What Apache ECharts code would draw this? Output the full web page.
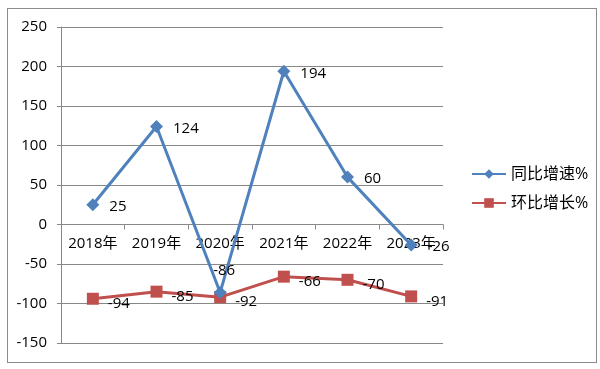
<!DOCTYPE html>
<html><head><meta charset="utf-8">
<script src="https://cdn.jsdelivr.net/npm/echarts@6/dist/echarts.min.js"></script>
<style>
html,body{margin:0;padding:0;background:#fff;}
#frame{position:absolute;left:7px;top:8px;width:588px;height:353px;border:1px solid #8c8c8c;}
#c{position:absolute;left:0;top:0;width:600px;height:369px;}
</style></head>
<body>
<div id="frame"></div>
<div id="c"></div>
<script>
var categories = ['2018年','2019年','2020年','2021年','2022年','2023年'];
var yoy = [25, 124, -86, 194, 60, -26];
var mom = [-94, -85, -92, -66, -70, -91];
var seriesNames = ['同比增速%','环比增长%'];

var font = '"Open Sans","Noto Sans CJK SC",sans-serif';
var chart = echarts.init(document.getElementById('c'));
chart.setOption({
  animation:false,
  backgroundColor:'transparent',
  textStyle:{fontFamily:font},
  grid:{left:61,right:157,top:27,bottom:26},
  legend:{
    orient:'vertical', left:466, top:161, itemWidth:34, itemHeight:12, itemGap:13,
    textStyle:{fontSize:16,color:'#000',fontFamily:font},
    data:seriesNames
  },
  xAxis:{
    type:'category', data:categories, boundaryGap:true,
    offset:-118.5,
    axisLine:{onZero:false,lineStyle:{color:'#888',width:1}},
    axisTick:{show:true,length:5,lineStyle:{color:'#888'}},
    axisLabel:{color:'#000',fontSize:15,margin:12,fontFamily:font,interval:0,hideOverlap:false}
  },
  yAxis:{
    type:'value', min:-150, max:250, interval:50,
    axisLine:{show:true,lineStyle:{color:'#888'}},
    axisTick:{show:true,length:4,lineStyle:{color:'#888'}},
    axisLabel:{color:'#000',fontSize:15,margin:14,fontFamily:font},
    splitLine:{lineStyle:{color:'#888',width:1}}
  },
  series:[
    {name:seriesNames[0], type:'line', symbol:'diamond', symbolSize:13,
     data:yoy.map(function(v,i){
       if(i===2) return {value:v,label:{position:'top',distance:8,offset:[4,0]}};
       return v;
     }),
     lineStyle:{color:'#4f81bd',width:3}, itemStyle:{color:'#4f81bd'},
     z:3,
     label:{show:true,position:'right',distance:10,offset:[0,2],fontSize:15,color:'#000',fontFamily:font}
    },
    {name:seriesNames[1], type:'line', data:mom, symbol:'rect', symbolSize:12,
     lineStyle:{color:'#c0504d',width:3}, itemStyle:{color:'#c0504d'},
     z:2,
     label:{show:true,position:'right',distance:9,offset:[0,5],fontSize:15,color:'#000',fontFamily:font}
    }
  ]
});
</script>
</body></html>
